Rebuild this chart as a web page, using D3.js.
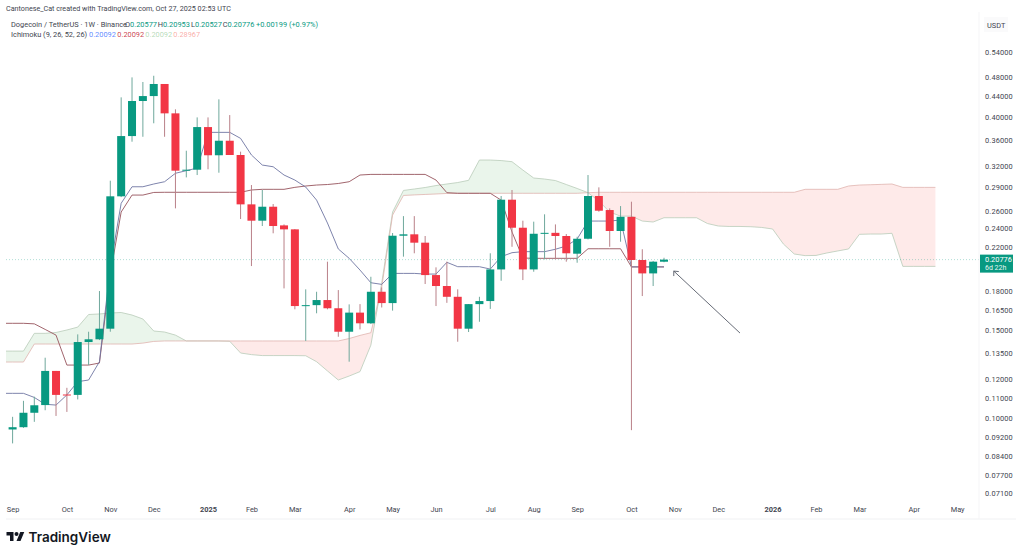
<!DOCTYPE html>
<html>
<head>
<meta charset="utf-8">
<script src="https://cdn.jsdelivr.net/npm/d3@7"></script>
<style>
  html, body { margin: 0; padding: 0; background: #fff; }
  text { font-family: Roboto, "Liberation Sans", sans-serif; }
</style>
</head>
<body>
<svg id="chart" width="1024" height="554"></svg>
<script>
// weekly candles, week 0 = Sep 2 2024, week 60 = Oct 27 2025
const opens = [.0951,.0961,.1027,.1064,.1245,.1117,.1115,.1422,.1440,.1512,.2780,.3668,.4310,.4409,.4661,.4072,.3128,.3142,.3823,.3358,.3590,.3362,.2679,.2485,.2650,.2432,.2388,.1678,.1685,.1725,.1661,.1491,.1628,.1550,.1792,.1701,.2319,.2334,.2246,.1935,.1840,.1751,.1512,.1693,.1717,.1986,.2737,.2406,.1986,.2340,.2350,.2316,.2135,.2287,.2784,.2610,.2370,.2530,.2074,.1950,.20577];
const highs = [.1008,.1085,.1106,.1323,.1245,.1152,.1473,.1491,.1798,.2987,.4383,.4805,.4704,.4841,.4661,.4148,.3429,.3997,.3997,.4343,.4040,.3414,.2928,.2862,.2683,.2443,.2391,.1812,.1792,.2058,.1806,.1691,.1693,.1920,.1828,.2348,.2538,.2538,.2316,.2005,.2058,.1812,.1693,.1751,.2139,.2784,.2862,.2485,.2474,.2559,.2443,.2337,.2308,.3066,.2897,.2630,.2658,.2712,.2179,.2065,.20953];
const lows = [.0892,.0958,.0985,.1039,.1012,.1031,.1092,.1279,.1435,.1491,.2770,.3574,.3656,.3890,.3656,.2630,.3033,.3066,.3148,.3099,.3362,.2504,.2017,.2425,.2345,.1820,.1653,.1429,.1623,.1653,.1457,.1299,.1507,.1545,.1667,.1643,.2106,.2139,.1857,.1678,.1703,.1424,.1489,.1561,.1656,.1885,.2204,.1891,.1965,.2080,.2080,.2058,.2048,.2280,.2590,.2204,.2256,.0948,.1757,.1840,.20527];
const closes = [.0961,.1027,.1063,.1245,.1115,.1112,.1422,.1440,.1512,.2780,.3668,.4310,.4409,.4661,.4072,.3128,.3142,.3823,.3358,.3590,.3362,.2679,.2485,.2650,.2425,.2388,.1678,.1685,.1725,.1661,.1491,.1628,.1550,.1792,.1701,.2319,.2334,.2246,.1935,.1840,.1751,.1512,.1693,.1717,.1986,.2737,.2406,.1986,.2340,.2350,.2316,.2139,.2287,.2784,.2602,.2370,.2530,.2074,.1950,.2058,.20776];

// ichimoku, these lists start one week before the first candle (week -1)
const conversion = [.1123,.1123,.1123,.1102,.1068,.1064,.1115,.1185,.1194,.1299,.2008,.2692,.2905,.2905,.2942,.2973,.3091,.3128,.3166,.3731,.3731,.3731,.3629,.3362,.3210,.3185,.3066,.2996,.2901,.2732,.2459,.2182,.2090,.1980,.1868,.1854,.1950,.1950,.1950,.1944,.1944,.2052,.2011,.2011,.2011,.1989,.2106,.2145,.2155,.2155,.2155,.2179,.2212,.2284,.2481,.2481,.2481,.2493,.20092,.20092,.20092,.20092];
const baseLine = [.1550,.1550,.1550,.1546,.1507,.1468,.1279,.1279,.1279,.1291,.1944,.2586,.2796,.2796,.2830,.2832,.2832,.2832,.2832,.2832,.2832,.2832,.2832,.2862,.2871,.2871,.2871,.2897,.2915,.2928,.2935,.2949,.2973,.3066,.3075,.3075,.3075,.3075,.3075,.3075,.2996,.2827,.2819,.2819,.2819,.2819,.2732,.2359,.2093,.2090,.2090,.2090,.2090,.2090,.2184,.2184,.2184,.2184,.20092,.20092,.20092,.20092];
const spanA = [.1364,.1364,.1364,.1480,.1480,.1486,.1503,.1523,.1614,.1618,.1625,.1629,.1610,.1581,.1496,.1489,.1468,.1429,.1429,.1429,.1429,.1427,.1352,.1342,.1336,.1336,.1336,.1336,.1335,.1299,.1245,.1194,.1216,.1241,.1402,.1865,.2586,.2856,.2875,.2895,.2921,.2942,.2962,.2992,.3285,.3285,.3277,.3260,.3137,.3024,.3010,.2989,.2935,.2882,.2827,.2720,.2586,.2538,.2538,.2481,.2470,.2519,.2519,.2519,.2519,.2453,.2425,.2420,.2420,.2417,.2409,.2392,.2232,.2132,.2116,.2118,.2142,.2162,.2182,.2334,.2337,.2337,.2345,.2014,.2014,.2014,.2014];
const spanB = [.1297,.1297,.1297,.1409,.1409,.1409,.1409,.1409,.1409,.1409,.1409,.1409,.1409,.1415,.1426,.1429,.1429,.1429,.1429,.1429,.1429,.1429,.1429,.1429,.1429,.1429,.1429,.1429,.1429,.1429,.1429,.1429,.1445,.1466,.1484,.1831,.2550,.2791,.2798,.2804,.2810,.2817,.2819,.2819,.2819,.2819,.2819,.2819,.2819,.2819,.2819,.2819,.2819,.2819,.2827,.2832,.2832,.2832,.2832,.2832,.2832,.2832,.2832,.2832,.2832,.2832,.2832,.2832,.2832,.2832,.2832,.2832,.2832,.2832,.2871,.2871,.2871,.2871,.2915,.2928,.2932,.2937,.2942,.28967,.28967,.28967,.28967];

const priceTicks = [0.54,0.48,0.44,0.40,0.36,0.32,0.29,0.26,0.24,0.22,0.18,0.165,0.15,0.135,0.12,0.11,0.10,0.092,0.084,0.077,0.071];
const monthWeeks = [0,5,9,13,18,22,26,31,35,39,44,48,52,57,61,65,70,74,78,83,87];
const monthLabels = ["Sep","Oct","Nov","Dec","2025","Feb","Mar","Apr","May","Jun","Jul","Aug","Sep","Oct","Nov","Dec","2026","Feb","Mar","Apr","May"];
const lastPrice = 0.20776;
const arrowFrom = [67, 0.1482];
const arrowTo = [60.9, 0.1971];

const GREEN = "#089981", RED = "#f23645", TEXT = "#42454f";

const svg = d3.select("#chart");
const x = d3.scaleLinear().domain([0, 60]).range([12.6, 664]);
const y = d3.scaleLog().domain([0.54, 0.071]).range([52, 493]);

const paneLeft = 6, paneRight = 979, paneTop = 40, paneBottom = 503;

svg.append("clipPath").attr("id", "pane").append("rect")
  .attr("x", paneLeft).attr("y", paneTop)
  .attr("width", paneRight - paneLeft).attr("height", paneBottom - paneTop);
const pane = svg.append("g").attr("clip-path", "url(#pane)");

// cloud
const cloudWeeks = spanA.map((d, i) => i - 1);
const greenCloud = d3.area().x(w => x(w))
  .y0(w => y(spanB[w + 1])).y1(w => y(Math.max(spanA[w + 1], spanB[w + 1])));
const redCloud = d3.area().x(w => x(w))
  .y0(w => y(Math.min(spanA[w + 1], spanB[w + 1]))).y1(w => y(spanB[w + 1]));
pane.append("path").attr("d", greenCloud(cloudWeeks)).attr("fill", "#43a047").attr("opacity", 0.11);
pane.append("path").attr("d", redCloud(cloudWeeks)).attr("fill", "#f44336").attr("opacity", 0.11);

const spanLine = arr => d3.line().x((d, i) => x(i - 1)).y(d => y(d))(arr);
pane.append("path").attr("d", spanLine(spanA)).attr("fill", "none").attr("stroke", "#b9cbb9").attr("stroke-width", 0.8);
pane.append("path").attr("d", spanLine(spanB)).attr("fill", "none").attr("stroke", "#e0b4ae").attr("stroke-width", 0.8);

// last price line
pane.append("line").attr("x1", paneLeft).attr("x2", paneRight)
  .attr("y1", y(lastPrice)).attr("y2", y(lastPrice))
  .attr("stroke", GREEN).attr("stroke-opacity", 0.45).attr("stroke-width", 0.7).attr("stroke-dasharray", "1 2");

// conversion and base lines
pane.append("path").attr("d", spanLine(baseLine)).attr("fill", "none").attr("stroke", "#96545c").attr("stroke-width", 0.9);
pane.append("path").attr("d", spanLine(conversion)).attr("fill", "none").attr("stroke", "#6f76a3").attr("stroke-width", 0.9);

// candles
const candles = pane.selectAll("g.candle").data(opens).join("g").attr("class", "candle");
candles.append("line")
  .attr("x1", (d, i) => x(i)).attr("x2", (d, i) => x(i))
  .attr("y1", (d, i) => y(highs[i])).attr("y2", (d, i) => y(lows[i]))
  .attr("stroke", (d, i) => closes[i] >= d ? "#6fa89c" : "#b98088").attr("stroke-width", 1);
candles.append("rect")
  .attr("x", (d, i) => x(i) - 4).attr("width", 8)
  .attr("y", (d, i) => y(Math.max(d, closes[i])))
  .attr("height", (d, i) => Math.max(1, Math.abs(y(d) - y(closes[i]))))
  .attr("fill", (d, i) => closes[i] >= d ? GREEN : RED);

// hand drawn arrow
const tipX = x(arrowTo[0]), tipY = y(arrowTo[1]);
pane.append("line")
  .attr("x1", x(arrowFrom[0])).attr("y1", y(arrowFrom[1]))
  .attr("x2", tipX).attr("y2", tipY)
  .attr("stroke", "#555a66").attr("stroke-width", 0.9);
pane.append("path")
  .attr("d", d3.line()([[tipX + 5, tipY + 0.5], [tipX, tipY], [tipX, tipY + 5]]))
  .attr("fill", "none").attr("stroke", "#555a66").attr("stroke-width", 0.9);

// axes
const yAxis = d3.axisRight(y).tickValues(priceTicks).tickFormat(d3.format(".5f")).tickSize(0).tickPadding(0);
const gy = svg.append("g").attr("transform", "translate(985,0)").call(yAxis);
gy.select(".domain").remove();
gy.selectAll("text").attr("fill", TEXT).style("font-size", "7.4px").style("letter-spacing", "0.15px");

const xAxis = d3.axisBottom(x).tickValues(monthWeeks)
  .tickFormat((d, i) => monthLabels[i]).tickSize(0).tickPadding(0);
const gx = svg.append("g").attr("transform", "translate(0,507)").call(xAxis);
gx.select(".domain").remove();
gx.selectAll("text").attr("fill", TEXT).style("font-size", "7.4px")
  .style("font-weight", (d, i) => monthLabels[i].length == 4 ? "700" : "400");

svg.append("line").attr("x1", paneLeft).attr("x2", 1016).attr("y1", 519).attr("y2", 519).attr("stroke", "#f0f1f3");
svg.append("line").attr("x1", 979).attr("x2", 979).attr("y1", 12).attr("y2", 519).attr("stroke", "#f5f5f7");

// USDT label
svg.append("rect").attr("x", 984).attr("y", 17).attr("width", 24).attr("height", 15).attr("fill", "#fafafb");
svg.append("text").attr("x", 987).attr("y", 28).text("USDT").attr("fill", TEXT).style("font-size", "7.4px");

// last price tag
svg.append("rect").attr("x", 980).attr("y", y(lastPrice) - 5).attr("width", 33).attr("height", 18).attr("fill", GREEN);
svg.append("text").attr("x", 985).attr("y", y(lastPrice) + 2.5).text("0.20776").attr("fill", "#fff").style("font-size", "7.4px");
svg.append("text").attr("x", 985).attr("y", y(lastPrice) + 10.5).text("6d 22h").attr("fill", "#e4f5f1").style("font-size", "7px");

// header and legend
svg.append("text").attr("x", 6).attr("y", 11).text("Cantonese_Cat created with TradingView.com, Oct 27, 2025 02:53 UTC")
  .attr("fill", TEXT).style("font-size", "7.2px");
svg.append("text").attr("x", 11).attr("y", 27).text("Dogecoin / TetherUS · 1W · Binance").attr("fill", TEXT).style("font-size", "7.4px");
svg.append("text").attr("x", 11).attr("y", 37).text("Ichimoku (9, 26, 52, 26)").attr("fill", TEXT).style("font-size", "7.4px");

const legendParts = [
  ["O", "0.20577", 125], ["H", "0.20953", 157.7], ["L", "0.20527", 191], ["C", "0.20776", 222.7]
];
legendParts.forEach(p => {
  const t = svg.append("text").attr("x", p[2]).attr("y", 27).style("font-size", "7.4px").attr("fill", GREEN);
  t.append("tspan").text(p[0]).attr("fill", TEXT);
  t.append("tspan").text(p[1]);
});
svg.append("text").attr("x", 256).attr("y", 27).text("+0.00199 (+0.97%)").attr("fill", GREEN).style("font-size", "7.4px");

const ichimokuValues = [
  ["0.20092", 89, "#2962ff", 0.75], ["0.20092", 117.3, "#c2212f", 0.85],
  ["0.20092", 145.3, "#43a047", 0.4], ["0.28967", 173.3, "#f44336", 0.45]
];
ichimokuValues.forEach(p => {
  svg.append("text").attr("x", p[1]).attr("y", 37).text(p[0]).attr("fill", p[2]).attr("fill-opacity", p[3]).style("font-size", "7.4px");
});

// TradingView mark
svg.append("path").attr("transform", "translate(6.5,530) scale(0.5)")
  .attr("d", "M14 22H7V11H0V4h14v18zM28 22h-8l7.5-18h8L28 22z").attr("fill", "#131722");
svg.append("circle").attr("cx", 16.5).attr("cy", 534).attr("r", 2).attr("fill", "#131722");
svg.append("text").attr("x", 28.5).attr("y", 542).text("TradingView")
  .attr("fill", "#131722").style("font-family", "Inter, Roboto, sans-serif").style("font-weight", "600").style("font-size", "13.5px");
</script>
</body>
</html>
